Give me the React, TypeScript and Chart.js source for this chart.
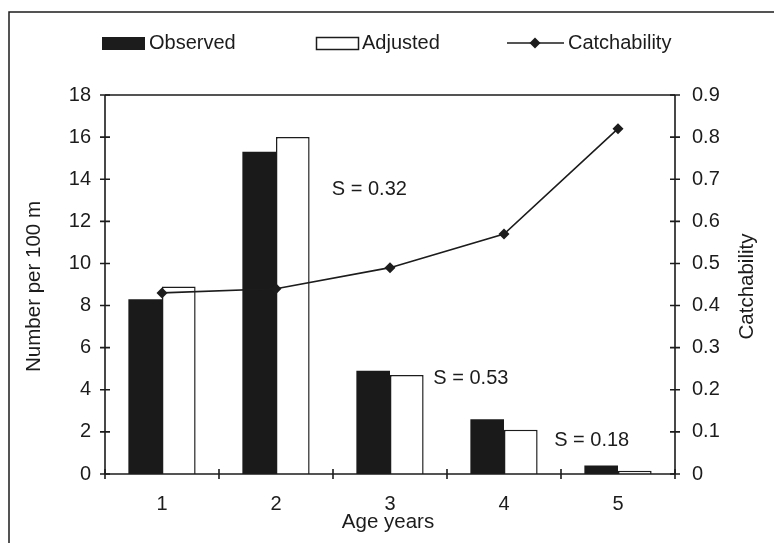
import React, { useEffect, useRef } from "react";
import { Chart, registerables } from "chart.js";

Chart.register(...registerables);

// ---- data ----
const categories = ["1", "2", "3", "4", "5"];
const observed = [8.3, 15.3, 4.9, 2.6, 0.4];
const adjusted = [8.9, 16.0, 4.7, 2.1, 0.15];
const catchability = [0.43, 0.44, 0.49, 0.57, 0.82];
const leftAxisRange = [0, 18, 2];
const rightAxisRange = [0, 0.9, 0.1];
const seriesNames = ["Observed", "Adjusted", "Catchability"];
const axisTitles = ["Number per 100 m", "Catchability", "Age years"];
const noteTexts = ["S = 0.32", "S = 0.53", "S = 0.18"];
const notePositions = [
  [1.49, 13.5],
  [2.38, 4.55],
  [3.44, 1.57],
];

const FONT = "'Liberation Sans', Arial, sans-serif";
const INK = "#1c1c1c";

const decor = {
  id: "decor",
  beforeDraw(chart: any) {
    const { ctx, width, height } = chart;
    ctx.save();
    ctx.fillStyle = "#ffffff";
    ctx.fillRect(0, 0, width, height);
    // outer frame
    ctx.strokeStyle = INK;
    ctx.lineWidth = 1.5;
    ctx.beginPath();
    ctx.moveTo(9, height + 2);
    ctx.lineTo(9, 12);
    ctx.lineTo(width + 2, 12);
    ctx.stroke();
    ctx.restore();
  },
  afterDatasetsDraw(chart: any) {
    const { ctx, chartArea: a, scales } = chart;
    const x = scales.x;
    const yl = scales.y;
    const yr = scales.y1;
    ctx.save();
    ctx.strokeStyle = INK;
    ctx.lineWidth = 1.6;
    ctx.beginPath();
    ctx.moveTo(a.left, a.top);
    ctx.lineTo(a.right, a.top);
    ctx.moveTo(a.left, a.top);
    ctx.lineTo(a.left, a.bottom);
    ctx.moveTo(a.right, a.top);
    ctx.lineTo(a.right, a.bottom);
    ctx.moveTo(a.left, a.bottom);
    ctx.lineTo(a.right, a.bottom);
    ctx.stroke();
    const t = 5;
    ctx.beginPath();
    yl.ticks.forEach((tk: any) => {
      const py = yl.getPixelForValue(tk.value);
      ctx.moveTo(a.left - t, py);
      ctx.lineTo(a.left + t, py);
    });
    yr.ticks.forEach((tk: any) => {
      const py = yr.getPixelForValue(tk.value);
      ctx.moveTo(a.right - t, py);
      ctx.lineTo(a.right + t, py);
    });
    for (let i = 0; i <= categories.length; i++) {
      const px = x.getPixelForValue(i - 0.5);
      ctx.moveTo(px, a.bottom - t);
      ctx.lineTo(px, a.bottom + t);
    }
    ctx.stroke();
    ctx.restore();
  },
  afterDraw(chart: any) {
    const { ctx, chartArea: a, scales } = chart;
    const x = scales.x;
    const yl = scales.y;
    ctx.save();
    ctx.fillStyle = INK;
    ctx.strokeStyle = INK;
    ctx.font = `20px ${FONT}`;
    ctx.textBaseline = "middle";
    ctx.textAlign = "left";
    noteTexts.forEach((txt, i) => {
      const [c, v] = notePositions[i];
      ctx.fillText(txt, x.getPixelForValue(c), yl.getPixelForValue(v));
    });
    // legend
    const ly = 43;
    ctx.fillRect(102, 37, 43, 13);
    ctx.fillText(seriesNames[0], 149, ly);
    ctx.lineWidth = 1.5;
    ctx.strokeRect(316.5, 37.5, 42, 12);
    ctx.fillText(seriesNames[1], 362, ly);
    ctx.beginPath();
    ctx.moveTo(507, ly);
    ctx.lineTo(564, ly);
    ctx.stroke();
    ctx.beginPath();
    ctx.moveTo(535, ly - 5.5);
    ctx.lineTo(540.5, ly);
    ctx.lineTo(535, ly + 5.5);
    ctx.lineTo(529.5, ly);
    ctx.closePath();
    ctx.fill();
    ctx.fillText(seriesNames[2], 568, ly);
    // axis titles
    ctx.textAlign = "center";
    ctx.font = `20.5px ${FONT}`;
    ctx.fillText(axisTitles[2], (a.left + a.right) / 2 - 2, 522);
    const cy = (a.top + a.bottom) / 2 + 2;
    ctx.save();
    ctx.translate(34, cy);
    ctx.rotate(-Math.PI / 2);
    ctx.fillText(axisTitles[0], 0, 0);
    ctx.restore();
    ctx.save();
    ctx.translate(747, cy);
    ctx.rotate(-Math.PI / 2);
    ctx.fillText(axisTitles[1], 0, 0);
    ctx.restore();
    ctx.restore();
  },
};

export default function App() {
  const ref = useRef<HTMLCanvasElement | null>(null);
  useEffect(() => {
    if (!ref.current) return;
    const tickFont = { family: FONT, size: 20 };
    const chart = new Chart(ref.current, {
      type: "bar",
      data: {
        labels: categories,
        datasets: [
          {
            type: "line",
            label: seriesNames[2],
            data: catchability,
            yAxisID: "y1",
            borderColor: INK,
            backgroundColor: INK,
            borderWidth: 1.6,
            pointStyle: "rectRot",
            pointRadius: 5.5,
            pointBorderWidth: 0,
            pointBackgroundColor: INK,
            tension: 0,
            order: 0,
          } as any,
          {
            label: seriesNames[0],
            data: observed,
            yAxisID: "y",
            backgroundColor: "#1a1a1a",
            borderColor: "#1a1a1a",
            borderWidth: 0,
            categoryPercentage: 0.59,
            barPercentage: 1,
            order: 1,
          },
          {
            label: seriesNames[1],
            data: adjusted,
            yAxisID: "y",
            backgroundColor: "#ffffff",
            borderColor: INK,
            borderWidth: 1.5,
            categoryPercentage: 0.59,
            barPercentage: 1,
            order: 1,
          },
        ],
      },
      options: {
        animation: false,
        responsive: false,
        maintainAspectRatio: false,
        layout: { padding: { top: 95, left: 0, right: 0, bottom: 0 } },
        plugins: {
          legend: { display: false },
          tooltip: { enabled: false },
          title: { display: false },
        },
        scales: {
          x: {
            offset: true,
            grid: { display: false, drawTicks: false, offset: true },
            border: { display: false },
            ticks: { color: INK, font: tickFont, padding: 18, maxRotation: 0 },
            afterFit: (s: any) => {
              s.height = 69;
            },
          },
          y: {
            position: "left",
            min: leftAxisRange[0],
            max: leftAxisRange[1],
            grid: { display: false, drawTicks: false },
            border: { display: false },
            ticks: { stepSize: leftAxisRange[2], color: INK, font: tickFont, padding: 14 },
            afterFit: (s: any) => {
              s.width = 105;
            },
          },
          y1: {
            position: "right",
            min: rightAxisRange[0],
            max: rightAxisRange[1],
            grid: { display: false, drawTicks: false },
            border: { display: false },
            ticks: {
              stepSize: rightAxisRange[2],
              color: INK,
              font: tickFont,
              padding: 17,
              callback: (v: any) => (Math.abs(v) < 1e-9 ? "0" : Number(v).toFixed(1)),
            },
            afterFit: (s: any) => {
              s.width = 99;
            },
          },
        },
      },
      plugins: [decor],
    });
    return () => chart.destroy();
  }, []);
  return (
    <div style={{ position: "absolute", left: 0, top: 0, width: 774, height: 543 }}>
      <canvas ref={ref} width={774} height={543} style={{ display: "block" }} />
    </div>
  );
}
